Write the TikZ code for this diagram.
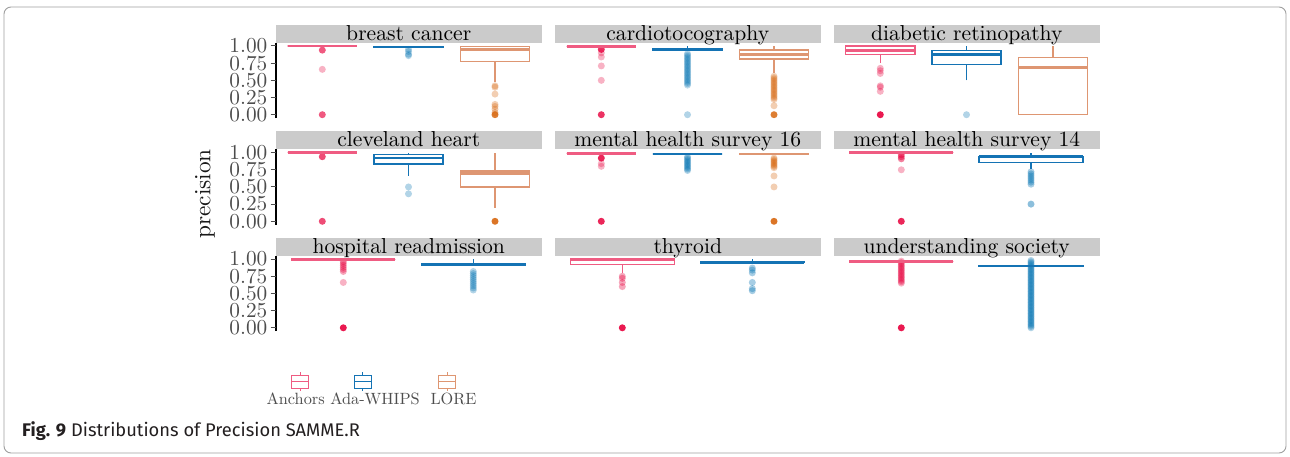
\documentclass[tikz,border=0pt]{standalone}
\usepackage{fontspec}
\setmainfont{lmroman10-regular.otf}[BoldFont=lmroman10-bold.otf, ItalicFont=lmroman10-italic.otf]
\setsansfont{Fira Sans}
\definecolor{anc}{HTML}{E8003D}
\definecolor{ancbox}{HTML}{EF5C82}
\definecolor{ada}{HTML}{0072B2}
\definecolor{adabox}{HTML}{1473B4}
\definecolor{lor}{HTML}{D55E00}
\definecolor{lorbox}{HTML}{DE9672}
\definecolor{stripc}{HTML}{CBCBCB}
\definecolor{tickc}{HTML}{4D4D4D}
\definecolor{capc}{HTML}{231F20}
\tikzset{
  anbox/.style={draw=ancbox, line width=1.3pt},
  adbox/.style={draw=adabox, line width=1.3pt},
  lobox/.style={draw=lorbox, line width=1.3pt},
  stripbox/.style={fill=stripc},
  striptext/.style={anchor=base, inner sep=0pt, font=\fontsize{21.6}{24}\selectfont},
  ticklab/.style={anchor=east, inner sep=0pt, text=tickc, font=\fontsize{21.3}{24}\selectfont},
  legtext/.style={anchor=base, inner sep=0pt, text=tickc, font=\fontsize{16.3}{18}\selectfont},
}
\newcommand{\bx}[8]{%
  \draw[#1box] (#2,#4) -- (#2,#5) (#2,#7) -- (#2,#8);
  \draw[#1box] (#2-#3,#5) rectangle (#2+#3,#7);
  \draw[#1box, line width=2.8pt] (#2-#3,#6) -- (#2+#3,#6);}
\newcommand{\pts}[4]{\foreach \v in {#3} {\fill[#1, opacity=#4] (#2,\v) circle[radius=3.5pt];}}
\newcommand{\panelstrip}[3]{% left, label, name
  \fill[stripbox] (#1,1.05) rectangle (#1+265.5,1.312);
  \node[striptext] (#3) at (#1+132.75,1.083) {#2};}
\newcommand{\yaxis}[1]{%
  \draw[line width=1.1pt] (276,-0.05) -- (276,1.05);
  \foreach \t/\l [count=\i] in {0/0.00,0.25/0.25,0.5/0.50,0.75/0.75,1/1.00} {
    \draw[tickc, line width=1pt] (270.5,\t) -- (276,\t);
    \node[ticklab] (#1\i) at (267.5,\t) {\l};}}
\begin{document}
\begin{tikzpicture}[x=1pt,y=1pt]
\useasboundingbox (0,0) rectangle (1290,456);
\fill[white] (0,0) rectangle (1290,456);
\draw[gray!75, line width=0.9pt, rounded corners=7pt] (4,3) rectangle (1286,449);

% ---------- row 1 ----------
\begin{scope}[shift={(0pt,341.3pt)}, y=68.7pt]
\yaxis{ta}
\panelstrip{276}{breast cancer}{s1}
\panelstrip{555}{cardiotocography}{s2}
\panelstrip{834}{diabetic retinopathy}{s3}
% breast cancer
\pts{anc}{322.3}{0.66}{0.3}
\pts{anc}{322.3}{0.94,0.0}{0.65}
\bx{an}{322.3}{34.6}{1}{1}{1}{1}{1}
\pts{ada}{408.5}{0.95,0.92,0.88,0.86}{0.3}
\bx{ad}{408.5}{34.6}{0.975}{0.975}{0.985}{0.995}{1}
\pts{lor}{495}{0.42,0.40,0.30,0.15,0.12,0.08,0.03}{0.3}
\pts{lor}{495}{0.0}{0.8}
\bx{lo}{495}{34.6}{0.48}{0.77}{0.95}{0.99}{1.0}
% cardiotocography
\pts{anc}{601.3}{0.90,0.84,0.71,0.50}{0.3}
\pts{anc}{601.3}{0.95,0.0}{0.8}
\bx{an}{601.3}{34.6}{1}{0.99}{0.99}{0.99}{1}
\pts{ada}{687.5}{0.43,0.45,...,0.91}{0.25}
\pts{ada}{687.5}{0.0}{0.3}
\bx{ad}{687.5}{34.6}{0.93}{0.94}{0.95}{0.96}{1.0}
\pts{lor}{774}{0.22,0.24,...,0.58}{0.25}
\pts{lor}{774}{0.13}{0.3}
\pts{lor}{774}{0.0}{0.8}
\bx{lo}{774}{34.6}{0.61}{0.81}{0.88}{0.94}{1.0}
% diabetic retinopathy
\pts{anc}{880.3}{0.675,0.64,0.60,0.42,0.40,0.34}{0.3}
\pts{anc}{880.3}{0.0}{0.9}
\bx{an}{880.3}{34.6}{0.75}{0.88}{0.94}{1.0}{1.0}
\pts{ada}{966.5}{0.0}{0.3}
\bx{ad}{966.5}{34.6}{0.5}{0.73}{0.875}{0.93}{1.0}
\bx{lo}{1053}{34.6}{0}{0}{0.69}{0.83}{1.0}
\end{scope}

% ---------- row 2 ----------
\begin{scope}[shift={(0pt,234.7pt)}, y=68.7pt]
\yaxis{tb}
\panelstrip{276}{cleveland heart}{s4}
\panelstrip{555}{mental health survey 16}{s5}
\panelstrip{834}{mental health survey 14}{s6}
% cleveland heart
\pts{anc}{322.3}{0.94,0.0}{0.7}
\bx{an}{322.3}{34.6}{1}{1}{1}{1}{1}
\pts{ada}{408.5}{0.5,0.4}{0.3}
\bx{ad}{408.5}{34.6}{0.66}{0.835}{0.92}{0.975}{1.0}
\pts{lor}{495}{0.0}{0.85}
\bx{lo}{495}{34.6}{0.2}{0.5}{0.70}{0.73}{1.0}
% mental health survey 16
\pts{anc}{601.3}{0.84,0.80}{0.3}
\pts{anc}{601.3}{0.92,0.0}{0.85}
\bx{an}{601.3}{34.6}{0.99}{0.99}{0.99}{0.99}{0.99}
\pts{ada}{687.5}{0.74,0.76,...,0.94}{0.3}
\bx{ad}{687.5}{34.6}{0.98}{0.98}{0.98}{0.98}{0.98}
\pts{lor}{774}{0.78,0.80,...,0.94}{0.3}
\pts{lor}{774}{0.66,0.5}{0.3}
\pts{lor}{774}{0.0}{0.85}
\bx{lo}{774}{34.6}{0.98}{0.98}{0.98}{0.98}{0.98}
% mental health survey 14
\pts{anc}{901.3}{0.75}{0.3}
\pts{anc}{901.3}{0.97,0.94,0.91}{0.5}
\pts{anc}{901.3}{0.0}{0.85}
\bx{an}{901.3}{52}{1}{1}{1}{1}{1}
\pts{ada}{1031}{0.72,0.69,0.66,0.63,0.60,0.57,0.54}{0.35}
\pts{ada}{1031}{0.25}{0.45}
\bx{ad}{1031}{52}{0.76}{0.855}{0.94}{0.946}{1.0}
\end{scope}

% ---------- row 3 ----------
\begin{scope}[shift={(0pt,128.2pt)}, y=68.7pt]
\yaxis{tc}
\panelstrip{276}{hospital readmission}{s7}
\panelstrip{555}{thyroid}{s8}
\panelstrip{834}{understanding society}{s9}
% hospital readmission
\pts{anc}{343.3}{0.965,0.94,0.91,0.88,0.85,0.82}{0.35}
\pts{anc}{343.3}{0.66}{0.3}
\pts{anc}{343.3}{0.0}{0.9}
\bx{an}{343.3}{52}{0.99}{0.99}{0.99}{0.99}{0.99}
\pts{ada}{473.3}{0.55,0.58,...,0.84}{0.3}
\bx{ad}{473.3}{52}{0.91}{0.91}{0.92}{0.93}{1.0}
% thyroid
\pts{anc}{622.3}{0.75,0.72,0.66,0.60}{0.35}
\pts{anc}{622.3}{0.0}{0.9}
\bx{an}{622.3}{52}{0.795}{0.92}{0.99}{1.0}{1.0}
\pts{ada}{752.3}{0.87,0.84,0.80,0.66,0.57,0.54}{0.35}
\bx{ad}{752.3}{52}{0.95}{0.95}{0.956}{0.962}{1.0}
% understanding society
\pts{anc}{901.3}{0.65,0.67,...,0.99}{0.3}
\pts{anc}{901.3}{0.0}{0.9}
\bx{an}{901.3}{52}{0.965}{0.965}{0.965}{0.965}{0.965}
\pts{ada}{1031}{0.0,0.02,...,1.0}{0.3}
\bx{ad}{1031}{52}{0.895}{0.895}{0.9}{0.905}{0.905}
\end{scope}

% y axis title
\node[rotate=90, inner sep=0pt, text=black!90, font=\fontsize{23.3}{26}\selectfont] (ytitle) at (205,262) {precision};

% legend
\draw[anbox] (300.3,84) -- (300.3,80.3) (300.3,67.7) -- (300.3,65);
\draw[anbox] (291.8,67.7) rectangle (308.8,80.3);
\draw[anbox] (291.8,74.2) -- (308.8,74.2);
\draw[adbox] (362.8,84) -- (362.8,80.3) (362.8,67.7) -- (362.8,65);
\draw[adbox] (354.3,67.7) rectangle (371.3,80.3);
\draw[adbox] (354.3,74.2) -- (371.3,74.2);
\draw[lobox] (447.2,84) -- (447.2,80.3) (447.2,67.7) -- (447.2,65);
\draw[lobox] (438.7,67.7) rectangle (455.7,80.3);
\draw[lobox] (438.7,74.2) -- (455.7,74.2);
\node[legtext] (l1) at (295.7,52) {Anchors};
\node[legtext] (l2) at (375,52) {Ada-WHIPS};
\node[legtext] (l3) at (453.5,52) {LORE};

% caption
\node[anchor=base west, inner sep=0pt, text=capc, font=\sffamily\fontsize{18.3}{21}\selectfont] (cap) at (22,19.5) {\textbf{Fig. 9} Distributions of Precision SAMME.R};
\end{tikzpicture}
\end{document}
